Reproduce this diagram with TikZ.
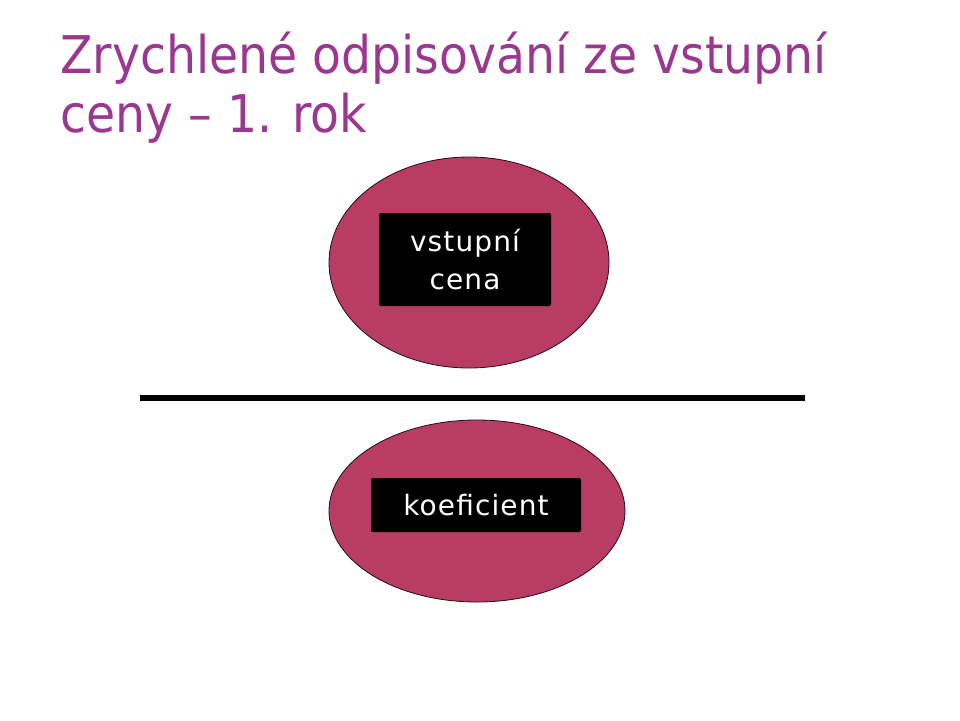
\documentclass[tikz,border=0pt]{standalone}
\usepackage{fontspec}
\setmainfont{DejaVu Sans}
\newfontfamily\titlefont[FakeStretch=0.91]{DejaVu Sans}
\newfontfamily\boxfont[LetterSpace=4]{DejaVu Sans}
\usetikzlibrary{shapes.geometric}
\definecolor{titlepurple}{RGB}{155,55,145}
\definecolor{ovalfill}{RGB}{184,60,100}
\tikzset{
  oval/.style={ellipse, draw=black!80!ovalfill, line width=0.8pt, fill=ovalfill, inner sep=0pt},
  labelbox/.style={fill=black, rounded corners=2pt, inner sep=0pt, text=white, align=center,
    font=\boxfont\fontsize{28}{38}\selectfont},
  titletext/.style={anchor=base west, text=titlepurple, inner sep=0pt,
    font=\titlefont\fontsize{52}{59}\selectfont},
}
\begin{document}
\begin{tikzpicture}[x=1pt,y=-1pt]
\useasboundingbox[fill=white] (0,0) rectangle (960,720);
\node[titletext] (t1) at (60,73) {Zrychlené odpisování ze vstupní};
\node[titletext] (t2) at (60,132) {ceny – 1. rok};
% top oval
\node[oval, minimum width=280pt, minimum height=211pt] (top) at (469,262.5) {};
\node[labelbox, minimum width=172pt, minimum height=93pt] (vc) at (465,259.5) {vstupní\\cena};
% fraction line
\coordinate (l1) at (140,398);
\coordinate (l2) at (805,398);
\draw[line width=5.5pt] (l1) -- (l2);
% bottom oval
\node[oval, minimum width=296pt, minimum height=182pt] (bot) at (477,511) {};
\node[labelbox, minimum width=210pt, minimum height=54pt] (koef) at (476,505) {koeficient};
\end{tikzpicture}
\end{document}
